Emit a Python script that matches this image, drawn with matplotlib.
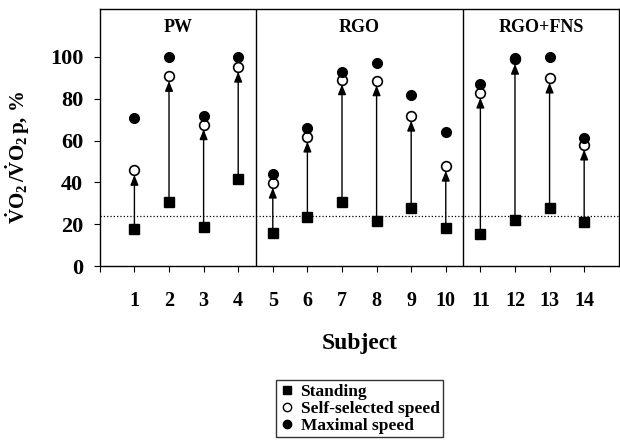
import matplotlib.pyplot as plt
from matplotlib.lines import Line2D

plt.rcParams['font.family'] = 'Liberation Serif'
plt.rcParams['font.weight'] = 'bold'
plt.rcParams['mathtext.fontset'] = 'custom'
plt.rcParams['mathtext.rm'] = 'Liberation Serif:bold'
plt.rcParams['mathtext.bf'] = 'Liberation Serif:bold'
plt.rcParams['mathtext.it'] = 'Liberation Serif:bold'

# datos
subjects = list(range(1, 15))
standing = [17.8, 30.6, 18.8, 41.7, 15.9, 23.6, 30.6, 21.5, 27.9, 18.2, 15.6, 22.3, 27.9, 20.9]
self_selected = [45.9, 90.8, 67.7, 95.2, 39.8, 61.8, 89.2, 88.7, 71.8, 47.9, 82.8, 99.0, 90.0, 58.0]
maximal = [70.6, 100, 71.8, 100, 44.1, 66.1, 92.7, 97.0, 81.8, 63.9, 87.3, 99.7, 100, 61.3]
groups = ['PW', 'RGO', 'RGO+FNS']
group_centers = [2.25, 7.5, 12.75]
group_dividers = [4.5, 10.5]
threshold = 24

fig = plt.figure(figsize=(6.2, 4.4), dpi=100)
ax = fig.add_axes([0.161, 0.395, 0.837, 0.585])

for x, s, o in zip(subjects, standing, self_selected):
    ax.annotate('', xy=(x, o - 2.3), xytext=(x, s + 1.8),
                arrowprops=dict(arrowstyle='-|>,head_length=0.5,head_width=0.2',
                                color='black', lw=1.0,
                                mutation_scale=12, shrinkA=0, shrinkB=0))

ax.plot(subjects, standing, 's', color='black', markersize=7, linestyle='none')
ax.plot(subjects, self_selected, 'o', mfc='white', mec='black', mew=1.2,
        markersize=7, linestyle='none')
ax.plot(subjects, maximal, 'o', color='black', markersize=7, linestyle='none')

ax.axhline(threshold, color='black', linestyle=':', lw=0.9)
for d in group_dividers:
    ax.axvline(d, color='black', lw=1.0)
for name, c in zip(groups, group_centers):
    ax.text(c, 114, name, ha='center', va='center', fontsize=13, fontweight='bold')

ax.set_xlim(0, 15)
ax.set_ylim(0, 123)
ax.set_xticks(range(0, 15))
ax.set_xticklabels([''] + [str(s) for s in subjects], fontsize=14.5, fontweight='bold')
ax.set_yticks([0, 20, 40, 60, 80, 100])
ax.set_yticklabels(['0', '20', '40', '60', '80', '100'], fontsize=16, fontweight='bold')
ax.tick_params(axis='x', length=4, pad=14)
ax.tick_params(axis='y', length=4, pad=8)
for sp in ax.spines.values():
    sp.set_linewidth(1.0)

ax.set_xlabel('Subject', fontsize=17, fontweight='bold', labelpad=16)
ax.set_ylabel(r'$\dot{\mathrm{V}}\mathrm{O}_2\,/\dot{\mathrm{V}}\mathrm{O}_2\,\mathrm{p}$, %',
              fontsize=15, fontweight='bold')
ax.yaxis.set_label_coords(-0.13, 0.424)

handles = [
    Line2D([], [], marker='s', color='black', linestyle='none', markersize=6),
    Line2D([], [], marker='o', mfc='white', mec='black', linestyle='none', markersize=6),
    Line2D([], [], marker='o', color='black', linestyle='none', markersize=6),
]
leg = fig.legend(handles, ['Standing', 'Self-selected speed', 'Maximal speed'],
                 loc='upper center', bbox_to_anchor=(0.58, 0.136),
                 prop={'family': 'Liberation Serif', 'weight': 'bold', 'size': 12.5},
                 frameon=True, fancybox=False, edgecolor='black',
                 handlelength=0.8, handletextpad=0.4, labelspacing=0.05,
                 borderpad=0.2, borderaxespad=0)
leg.get_frame().set_linewidth(1.0)

fig.savefig('out.png', dpi=100)
